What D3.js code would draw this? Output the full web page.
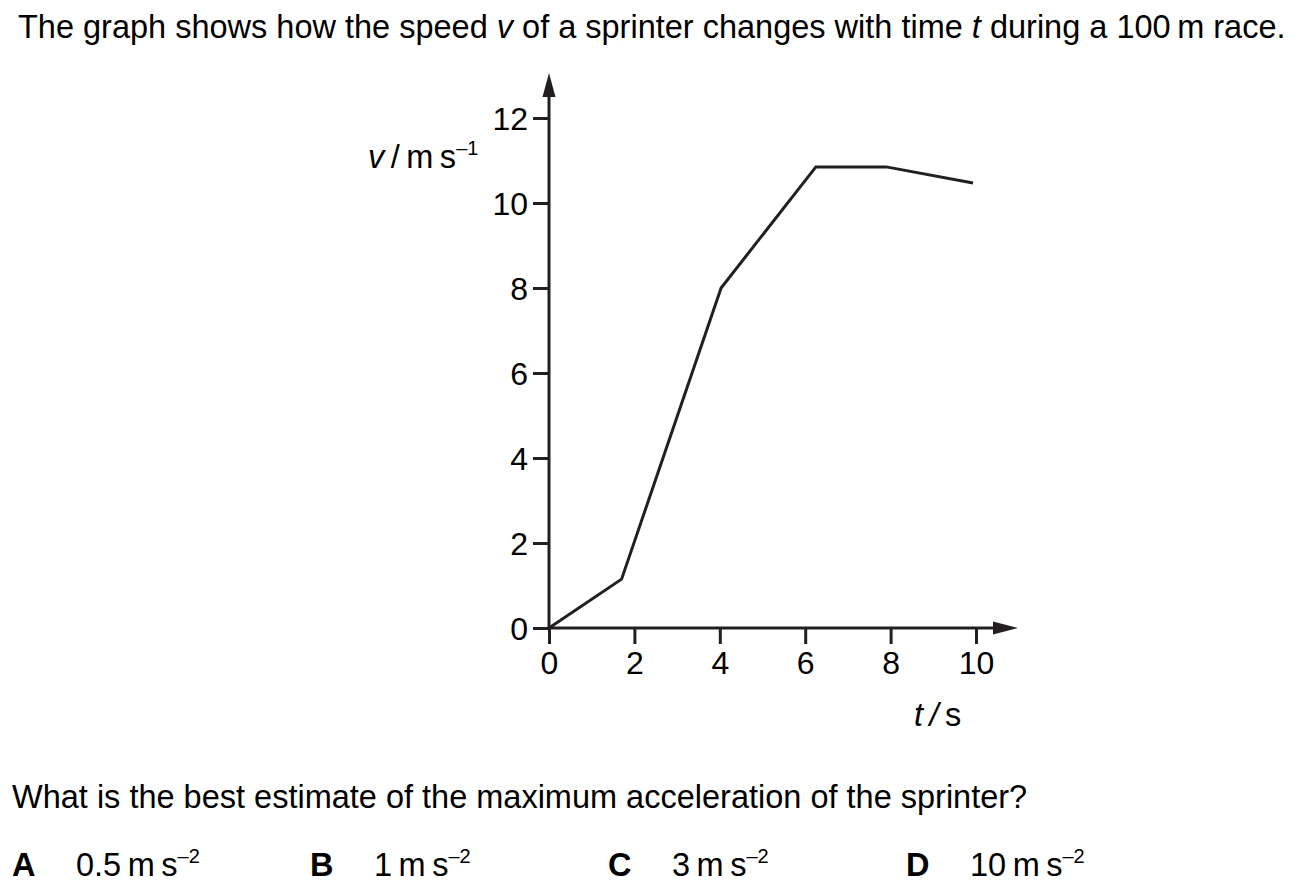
<!DOCTYPE html>
<html>
<head>
<meta http-equiv="Content-Type" content="text/html; charset=UTF-8">
<title>Sprinter speed-time graph</title>
<script src="https://cdn.jsdelivr.net/npm/d3@7"></script>
<style>
body { margin: 0; background: #fff; }
text { font-family: "Liberation Sans", Arial, sans-serif; fill: #000; }
</style>
</head>
<body>
<svg class="chart" width="1306" height="892"></svg>

<script>
// data
var times  = [0, 1.7, 4.03, 6.25, 7.9, 9.93];
var speeds = [0, 1.15, 8.0, 10.85, 10.85, 10.47];
var xTicks = [0, 2, 4, 6, 8, 10];
var yTicks = [0, 2, 4, 6, 8, 10, 12];
var options = [
  {letter: "A", value: "0.5"},
  {letter: "B", value: "1"},
  {letter: "C", value: "3"},
  {letter: "D", value: "10"}
];

var ink = "#231f20";
var fs = "32.5px";
var svg = d3.select(".chart");

var x = d3.scaleLinear().domain([0, 10]).range([549, 976]);
var y = d3.scaleLinear().domain([0, 12]).range([628, 118]);

// question text
var title = svg.append("text")
  .attr("x", 18).attr("y", 38)
  .style("font-size", fs);
title.append("tspan").text("The graph shows how the speed ");
title.append("tspan").style("font-style", "italic").text("v");
title.append("tspan").text(" of a sprinter changes with time ");
title.append("tspan").style("font-style", "italic").text("t");
title.append("tspan").text(" during a 100\u2009m race.");

//axes (ticks only, lines drawn by hand so they can carry arrows)
var yAxis = d3.axisLeft(y).tickValues(yTicks).tickSize(16).tickPadding(5);
var xAxis = d3.axisBottom(x).tickValues(xTicks).tickSize(16).tickPadding(4);

var gy = svg.append("g").attr("transform", "translate(" + x(0) + ",0)").call(yAxis);
var gx = svg.append("g").attr("transform", "translate(0," + y(0) + ")").call(xAxis);

[gy, gx].forEach(function(g){
  g.select(".domain").remove();
  g.selectAll(".tick line").attr("stroke", ink).attr("stroke-width", 3);
  g.selectAll(".tick text")
    .style("font-family", "Liberation Sans, Arial, sans-serif")
    .style("font-size", "32px")
    .attr("fill", "#000");
});
gy.selectAll(".tick text").attr("dy", "0.36em");
gx.selectAll(".tick text").attr("dy", "0.8em");

// axis lines
var yTop = y(12) - 21;
svg.append("line")
  .attr("x1", x(0)).attr("x2", x(0))
  .attr("y1", y(0)).attr("y2", yTop)
  .attr("stroke", ink).attr("stroke-width", 3);
svg.append("path")
  .attr("d", "M" + x(0) + "," + (yTop - 24) + " L" + (x(0) - 6.5) + "," + yTop + " L" + (x(0) + 6.5) + "," + yTop + " Z")
  .attr("fill", ink);

var xEnd = x(10) + 17;
svg.append("line")
  .attr("x1", x(0)).attr("x2", xEnd)
  .attr("y1", y(0)).attr("y2", y(0))
  .attr("stroke", ink).attr("stroke-width", 3);
svg.append("path")
  .attr("d", "M" + (xEnd + 25) + "," + y(0) + " L" + xEnd + "," + (y(0) - 6.5) + " L" + xEnd + "," + (y(0) + 6.5) + " Z")
  .attr("fill", ink);

// axis labels
var vLab = svg.append("text")
  .attr("x", 368).attr("y", 168)
  .style("font-size", fs);
vLab.append("tspan").style("font-style", "italic").text("v");
vLab.append("tspan").text("\u2009/\u2009m\u2009s");
vLab.append("tspan").attr("dy", -13).style("font-size", "20px").text("\u20131");

var tLab = svg.append("text")
  .attr("x", 914).attr("y", 726)
  .style("font-size", fs);
tLab.append("tspan").style("font-style", "italic").text("t");
tLab.append("tspan").style("font-style", "italic").text("\u2009/");
tLab.append("tspan").text("\u2009s");

// the speed-time line
var line = d3.line()
  .x(function(d, i){ return x(times[i]); })
  .y(function(d){ return y(d); });

svg.append("path")
  .datum(speeds)
  .attr("d", line)
  .attr("fill", "none")
  .attr("stroke", ink)
  .attr("stroke-width", 3)
  .attr("stroke-linejoin", "miter");

// question and answer options
svg.append("text")
  .attr("x", 12).attr("y", 808)
  .style("font-size", fs)
  .text("What is the best estimate of the maximum acceleration of the sprinter?");

var optX = [12, 310, 608, 906];
var opt = svg.selectAll(".opt")
  .data(options)
  .enter()
  .append("g")
  .attr("class", "opt")
  .attr("transform", function(d, i){ return "translate(" + optX[i] + ",876)"; });

opt.append("text")
  .style("font-size", fs)
  .style("font-weight", "bold")
  .text(function(d){ return d.letter; });

var optText = opt.append("text")
  .attr("x", 64)
  .style("font-size", fs);
optText.append("tspan").text(function(d){ return d.value + "\u2009m\u2009s"; });
optText.append("tspan").attr("dy", -13).style("font-size", "20px").text("\u20132");
</script>
</body>
</html>
